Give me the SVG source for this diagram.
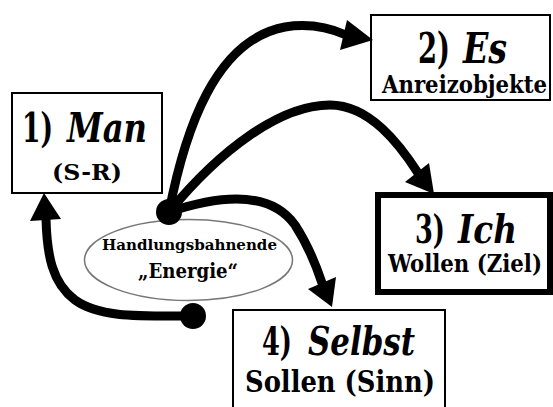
<svg xmlns="http://www.w3.org/2000/svg" width="553" height="407" viewBox="0 0 553 407">
<style>
.box{fill:#fff;stroke:#000;stroke-width:2}
.thick{stroke-width:6}
.t{font-family:'DejaVu Serif',serif;font-stretch:condensed;font-weight:bold;fill:#000;text-anchor:middle}
.s{text-anchor:start}
.it{font-style:italic}
.con{fill:none;stroke:#000;stroke-width:9;stroke-linecap:round}
.head{fill:#000}
</style>
<rect width="553" height="407" fill="#fff"/>
<g id="node-man">
<rect class="box" x="12" y="93" width="150" height="100"/>
<text class="t s" x="22" y="142" font-size="41" textLength="31" lengthAdjust="spacingAndGlyphs">1)</text>
<text class="t s it" x="67" y="142" font-size="41" textLength="80" lengthAdjust="spacingAndGlyphs">Man</text>
<text class="t" x="87" y="180" font-size="23" textLength="70" lengthAdjust="spacingAndGlyphs">(S-R)</text>
</g>
<g id="node-es">
<rect class="box" x="371" y="15" width="179" height="85"/>
<text class="t s" x="418" y="63" font-size="42" textLength="32" lengthAdjust="spacingAndGlyphs">2)</text>
<text class="t s it" x="463" y="63" font-size="42" textLength="44" lengthAdjust="spacingAndGlyphs">Es</text>
<text class="t" x="464.5" y="93" font-size="24" textLength="165" lengthAdjust="spacingAndGlyphs">Anreizobjekte</text>
</g>
<g id="node-ich">
<rect class="box thick" x="378" y="195" width="172" height="97"/>
<text class="t s" x="415" y="243" font-size="39" textLength="30" lengthAdjust="spacingAndGlyphs">3)</text>
<text class="t s it" x="458" y="243" font-size="39" textLength="59" lengthAdjust="spacingAndGlyphs">Ich</text>
<text class="t" x="465" y="272" font-size="24" textLength="154" lengthAdjust="spacingAndGlyphs">Wollen (Ziel)</text>
</g>
<g id="node-selbst">
<rect class="box" x="233" y="310" width="212" height="110"/>
<text class="t s" x="262" y="355" font-size="39" textLength="30" lengthAdjust="spacingAndGlyphs">4)</text>
<text class="t s it" x="308" y="355" font-size="39" textLength="107" lengthAdjust="spacingAndGlyphs">Selbst</text>
<text class="t" x="340" y="392" font-size="29" textLength="190" lengthAdjust="spacingAndGlyphs">Sollen (Sinn)</text>
</g>
<g id="node-energie">
<ellipse cx="188.5" cy="260" rx="104" ry="40.5" fill="#fff" stroke="#777" stroke-width="1.5"/>
<text class="t" x="189.5" y="250" font-size="15" textLength="175" lengthAdjust="spacingAndGlyphs">Handlungsbahnende</text>
<text class="t" x="188" y="278" font-size="20" textLength="100" lengthAdjust="spacingAndGlyphs">„Energie“</text>
</g>
<g id="connectors">
<path class="con" d="M169,212 C185,130 215,40 285,27 C310,23 330,28 346,35"/>
<polygon class="head" points="373,40 347,20 340,50"/>
<path class="con" d="M169,212 C220,150 280,105 330,105 C370,105 400,145 418,173"/>
<polygon class="head" points="434,194 405,182 429,163"/>
<path class="con" d="M169,212 C220,195 270,190 295,225 C308,245 316,265 322,283"/>
<polygon class="head" points="332,307 308,289 336,277"/>
<path class="con" d="M193,316 C140,316 100,318 75,300 C52,283 47,255 46,219"/>
<polygon class="head" points="44,193 30,221 61,219"/>
<circle cx="169" cy="212" r="13"/>
<circle cx="193" cy="316" r="13"/>
</g>
</svg>
